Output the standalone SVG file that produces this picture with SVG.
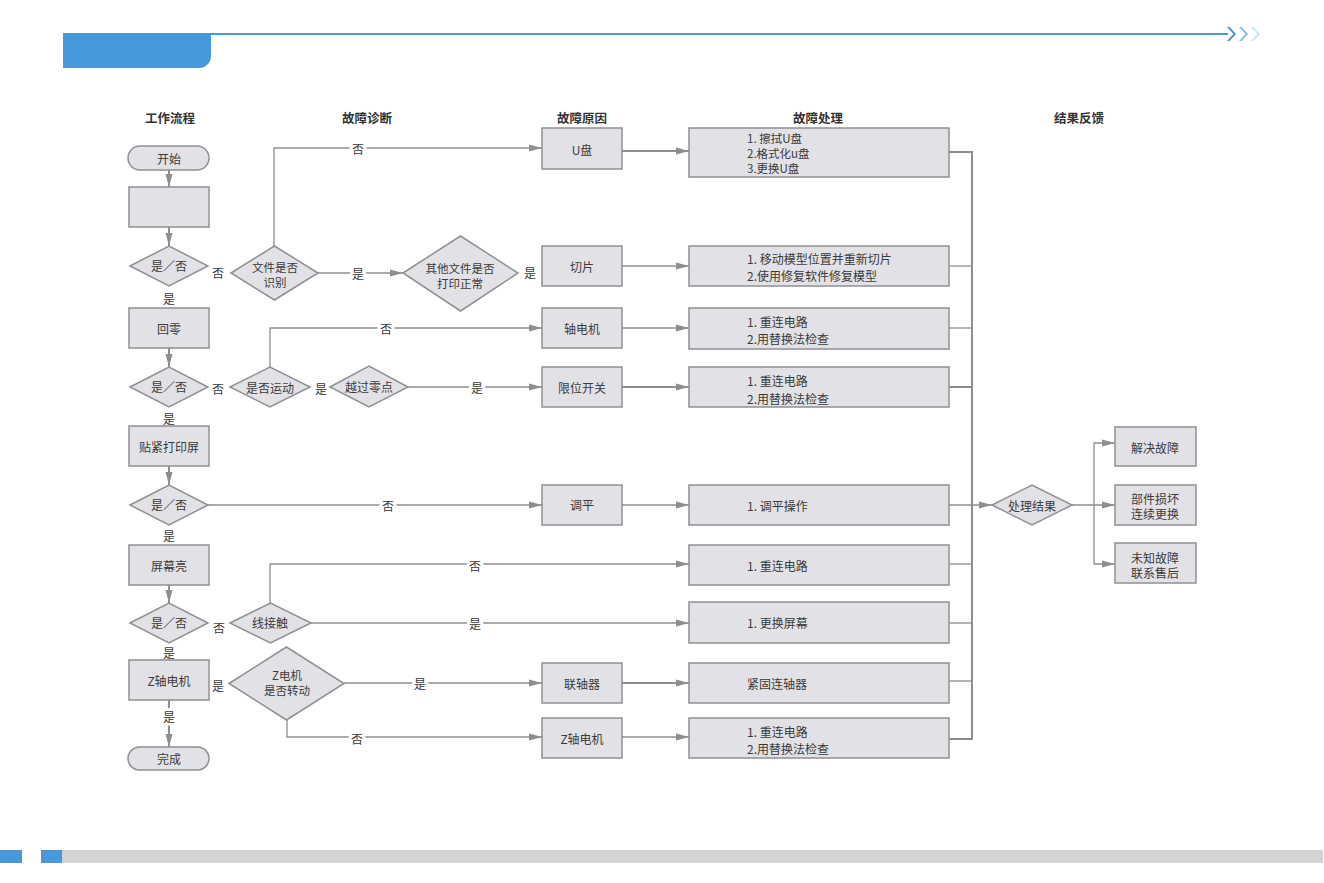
<svg xmlns="http://www.w3.org/2000/svg" width="1324" height="883" viewBox="0 0 1324 883">
<defs>
<style>
.box{fill:#E2E1E6;stroke:#909093;stroke-width:1.5}
.t{font-family:"Noto Sans CJK SC","Liberation Sans",sans-serif;font-size:12px;fill:#3A3A3A}
.s{font-size:11.5px}
.c{text-anchor:middle;dominant-baseline:central}
.l{dominant-baseline:central}
.h{font-weight:bold;font-size:12.5px;fill:#333}
.ln{stroke:#8E8E90;stroke-width:1.3;fill:none}
.thk{stroke-width:2}
.lbl{paint-order:stroke;stroke:#fff;stroke-width:6px;stroke-linejoin:round}
</style>
<marker id="ah" markerUnits="userSpaceOnUse" markerWidth="13" markerHeight="8" refX="13" refY="4" orient="auto"><path d="M0,0.5 L13,4 L0,7.5z" fill="#8E8E90"/></marker>
</defs>
<rect width="1324" height="883" fill="#fff"/>
<!-- header -->
<path d="M63,33 H211 V56 A12,12 0 0 1 199,68 H63 Z" fill="#4799DA"/>
<rect x="211" y="33" width="1017" height="2" fill="#4799DA"/>
<path d="M1227,27 L1233.5,34 L1227,41 L1229.5,41 L1236,34 L1229.5,27 Z" fill="#3F8FD8"/>
<path d="M1239,27 L1245.5,34 L1239,41 L1241.5,41 L1248,34 L1241.5,27 Z" fill="#7BBCE8"/>
<path d="M1251,27 L1257.5,34 L1251,41 L1253.5,41 L1260,34 L1253.5,27 Z" fill="#C4E6F5"/>
<!-- footer -->
<rect x="0" y="850" width="22" height="13" fill="#4799DA"/>
<rect x="41" y="850" width="21" height="13" fill="#4799DA"/>
<rect x="62" y="850" width="1261" height="13" fill="#D3D4D4"/>
<!-- column headers -->
<g class="t h c">
<text x="170" y="117">工作流程</text>
<text x="367" y="117">故障诊断</text>
<text x="582" y="117">故障原因</text>
<text x="818" y="117">故障处理</text>
<text x="1079" y="117">结果反馈</text>
</g>
<!-- connectors -->
<g id="connectors">
<path class="ln thk" d="M169,170 V187" marker-end="url(#ah)"/>
<path class="ln thk" d="M169,227 V246" marker-end="url(#ah)"/>
<path class="ln thk" d="M169,348 V367" marker-end="url(#ah)"/>
<path class="ln thk" d="M169,466 V485" marker-end="url(#ah)"/>
<path class="ln thk" d="M169,585 V603" marker-end="url(#ah)"/>
<path class="ln thk" d="M169,700 V747" marker-end="url(#ah)"/>
<path class="ln" d="M274,246 V148 H542" marker-end="url(#ah)"/>
<path class="ln" d="M318,273 H403" marker-end="url(#ah)"/>
<path class="ln thk" d="M622,151 H689" marker-end="url(#ah)"/>
<path class="ln" d="M622,266 H689" marker-end="url(#ah)"/>
<path class="ln" d="M270,367 V328 H542" marker-end="url(#ah)"/>
<path class="ln" d="M622,328 H689" marker-end="url(#ah)"/>
<path class="ln" d="M408,387 H542" marker-end="url(#ah)"/>
<path class="ln thk" d="M622,387 H689" marker-end="url(#ah)"/>
<path class="ln" d="M208,505 H542" marker-end="url(#ah)"/>
<path class="ln" d="M622,505 H689" marker-end="url(#ah)"/>
<path class="ln" d="M270,603 V564 H689" marker-end="url(#ah)"/>
<path class="ln" d="M311,623 H689" marker-end="url(#ah)"/>
<path class="ln" d="M344,683 H542" marker-end="url(#ah)"/>
<path class="ln thk" d="M622,683 H689" marker-end="url(#ah)"/>
<path class="ln" d="M287,720 V737 H542" marker-end="url(#ah)"/>
<path class="ln" d="M622,737 H689" marker-end="url(#ah)"/>
<path class="ln thk" d="M949,152 H972"/>
<path class="ln" d="M949,266 H972"/>
<path class="ln" d="M949,328 H972"/>
<path class="ln thk" d="M949,387 H972"/>
<path class="ln" d="M949,564 H972"/>
<path class="ln" d="M949,623 H972"/>
<path class="ln" d="M949,681 H972"/>
<path class="ln thk" d="M949,739 H972"/>
<path class="ln thk" d="M972,151 V740"/>
<path class="ln" d="M949,505 H992" marker-end="url(#ah)"/>
<path class="ln" d="M1072,505 H1115" marker-end="url(#ah)"/>
<path class="ln" d="M1094,505 V443 H1115" marker-end="url(#ah)"/>
<path class="ln" d="M1094,505 V564 H1115" marker-end="url(#ah)"/>
<g class="t c lbl">
<text x="358" y="148">否</text>
<text x="358" y="273">是</text>
<text x="530" y="272">是</text>
<text x="386" y="328">否</text>
<text x="321" y="388">是</text>
<text x="477" y="387">是</text>
<text x="388" y="505">否</text>
<text x="475" y="565">否</text>
<text x="475" y="623">是</text>
<text x="420" y="683">是</text>
<text x="357" y="738">否</text>
<text x="169" y="298">是</text>
<text x="169" y="418">是</text>
<text x="169" y="535">是</text>
<text x="169" y="652">是</text>
<text x="169" y="716">是</text>
<text x="218" y="272">否</text>
<text x="218" y="388">否</text>
<text x="219" y="627">否</text>
<text x="218" y="685">是</text>
</g>
</g>
<!-- left column -->
<g id="start"><rect class="box" x="128" y="146" width="81" height="24" rx="12"/><text class="t c" x="169" y="158">开始</text></g>
<g id="n-empty"><rect class="box" x="129" y="187" width="80" height="40"/></g>
<g id="d1"><polygon class="box" points="130,266 169,246 208,266 169,286"/><text class="t c" x="169" y="265">是／否</text></g>
<g id="n-home"><rect class="box" x="129" y="308" width="80" height="40"/><text class="t c" x="169" y="328">回零</text></g>
<g id="d2"><polygon class="box" points="130,387 169,367 208,387 169,407"/><text class="t c" x="169" y="386">是／否</text></g>
<g id="n-stick"><rect class="box" x="129" y="426" width="80" height="40"/><text class="t c" x="169" y="446">贴紧打印屏</text></g>
<g id="d3"><polygon class="box" points="130,505 169,485 208,505 169,525"/><text class="t c" x="169" y="504">是／否</text></g>
<g id="n-screen"><rect class="box" x="129" y="545" width="80" height="40"/><text class="t c" x="169" y="565">屏幕亮</text></g>
<g id="d4"><polygon class="box" points="130,623 169,603 208,623 169,643"/><text class="t c" x="169" y="622">是／否</text></g>
<g id="n-zmotor"><rect class="box" x="129" y="660" width="80" height="40"/><text class="t c" x="169" y="680">Z轴电机</text></g>
<g id="end"><rect class="box" x="128" y="747" width="81" height="23" rx="11.5"/><text class="t c" x="169" y="758.5">完成</text></g>
<!-- diagnosis -->
<g id="d-file"><polygon class="box" points="231,273 274.5,246 318,273 274.5,300"/><text class="t s c" x="275" y="267">文件是否</text><text class="t s c" x="275" y="282">识别</text></g>
<g id="d-other"><polygon class="box" points="403,273 460.5,236 518,273 460.5,311"/><text class="t s c" x="460" y="268">其他文件是否</text><text class="t s c" x="460" y="283">打印正常</text></g>
<g id="d-move"><polygon class="box" points="230,387 270,367 310,387 270,407"/><text class="t c" x="270" y="387">是否运动</text></g>
<g id="d-zero"><polygon class="box" points="330,387 369,366 408,387 369,407"/><text class="t c" x="369" y="386">越过零点</text></g>
<g id="d-wire"><polygon class="box" points="230,623 270.5,603 311,623 270.5,643"/><text class="t c" x="270" y="622">线接触</text></g>
<g id="d-zrot"><polygon class="box" points="229,683.5 286.5,647 344,683.5 286.5,720"/><text class="t s c" x="287" y="675">Z电机</text><text class="t s c" x="287" y="690">是否转动</text></g>
<!-- causes -->
<g id="c-udisk"><rect class="box" x="542" y="128" width="80" height="41"/><text class="t c" x="582" y="149">U盘</text></g>
<g id="c-slice"><rect class="box" x="542" y="246" width="80" height="40"/><text class="t c" x="582" y="266">切片</text></g>
<g id="c-axis"><rect class="box" x="542" y="308" width="80" height="40"/><text class="t c" x="582" y="328">轴电机</text></g>
<g id="c-limit"><rect class="box" x="542" y="367" width="80" height="40"/><text class="t c" x="582" y="387">限位开关</text></g>
<g id="c-level"><rect class="box" x="542" y="485" width="80" height="40"/><text class="t c" x="582" y="504">调平</text></g>
<g id="c-coupler"><rect class="box" x="542" y="663" width="80" height="40"/><text class="t c" x="582" y="683">联轴器</text></g>
<g id="c-zmotor"><rect class="box" x="542" y="718" width="80" height="40"/><text class="t c" x="582" y="738">Z轴电机</text></g>
<!-- handling -->
<g id="p1"><rect class="box" x="689" y="128" width="260" height="49"/><text class="t s l" x="747" y="138">1. 擦拭U盘</text><text class="t s l" x="747" y="153">2.格式化u盘</text><text class="t s l" x="747" y="168">3.更换U盘</text></g>
<g id="p2"><rect class="box" x="689" y="246" width="260" height="40"/><text class="t l" x="747" y="258">1. 移动模型位置并重新切片</text><text class="t l" x="747" y="275">2.使用修复软件修复模型</text></g>
<g id="p3"><rect class="box" x="689" y="308" width="260" height="41"/><text class="t l" x="747" y="321">1. 重连电路</text><text class="t l" x="747" y="338">2.用替换法检查</text></g>
<g id="p4"><rect class="box" x="689" y="367" width="260" height="40"/><text class="t l" x="747" y="380">1. 重连电路</text><text class="t l" x="747" y="398">2.用替换法检查</text></g>
<g id="p5"><rect class="box" x="689" y="485" width="260" height="40"/><text class="t l" x="747" y="505">1. 调平操作</text></g>
<g id="p6"><rect class="box" x="689" y="545" width="260" height="40"/><text class="t l" x="747" y="565">1. 重连电路</text></g>
<g id="p7"><rect class="box" x="689" y="602" width="260" height="41"/><text class="t l" x="747" y="622">1. 更换屏幕</text></g>
<g id="p8"><rect class="box" x="689" y="663" width="260" height="40"/><text class="t l" x="747" y="683">紧固连轴器</text></g>
<g id="p9"><rect class="box" x="689" y="718" width="260" height="40"/><text class="t l" x="747" y="731">1. 重连电路</text><text class="t l" x="747" y="748">2.用替换法检查</text></g>
<!-- result -->
<g id="d-result"><polygon class="box" points="992,505 1032,485 1072,505 1032,525"/><text class="t c" x="1032" y="505">处理结果</text></g>
<g id="r1"><rect class="box" x="1115" y="427" width="81" height="39"/><text class="t c" x="1155" y="447">解决故障</text></g>
<g id="r2"><rect class="box" x="1115" y="485" width="81" height="40"/><text class="t c" x="1155" y="498">部件损坏</text><text class="t c" x="1155" y="513">连续更换</text></g>
<g id="r3"><rect class="box" x="1115" y="543" width="81" height="40"/><text class="t c" x="1155" y="557">未知故障</text><text class="t c" x="1155" y="572">联系售后</text></g>
</svg>
